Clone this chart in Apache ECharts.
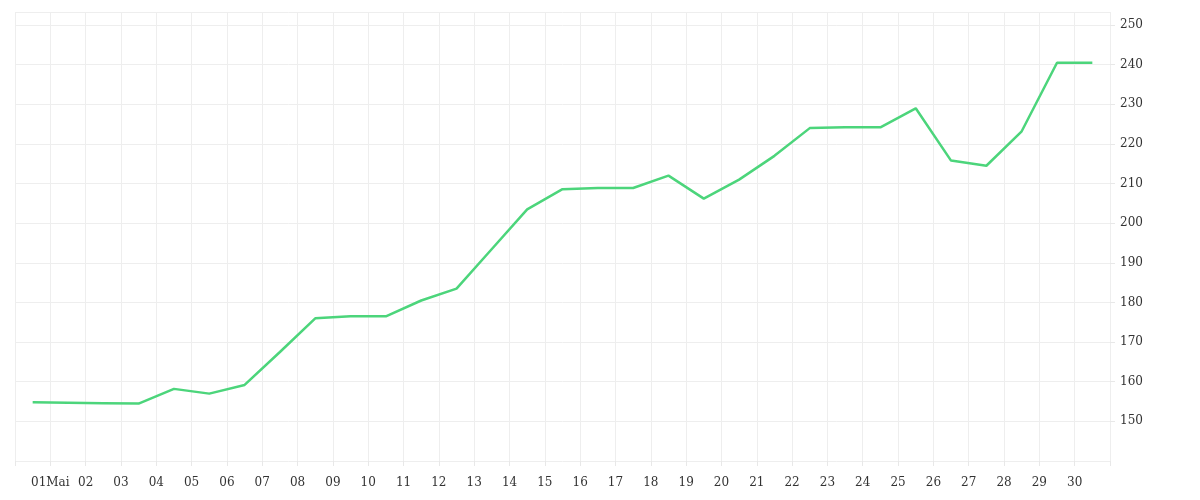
<!DOCTYPE html>
<html>
<head>
<meta charset="utf-8">
<script src="https://cdn.jsdelivr.net/npm/echarts@6/dist/echarts.min.js"></script>
<style>html,body{margin:0;padding:0;background:#fff}#chart{width:1200px;height:500px}</style>
</head>
<body>
<div id="chart"></div>
<script>
// one point per day at noon, 30 Apr .. 30 May
var startDay = '2024-04-30T12:00:00';
var values = [154.8,154.7,154.6,154.5,158.2,157,159.2,167.5,176,176.5,176.5,180.5,183.5,193.5,203.5,
  208.6,208.9,208.9,212,206.2,211,217,224,224.2,224.2,229,215.8,214.5,223.2,240.5,240.5];
var monthNames = ['Jan','Feb','Mär','Apr','Mai','Jun','Jul','Aug','Sep','Okt','Nov','Dez'];

var t0 = new Date(startDay).getTime();
var points = values.map(function (v, i) { return [t0 + i * 86400000, v]; });

var myChart = echarts.init(document.getElementById('chart'));
var options = {
    animation: false,
    grid: { left: 15, right: 90, top: 12, bottom: 39 },
    xAxis: {
        type: 'time',
        min: new Date('2024-04-30T00:00:00').getTime(),
        max: new Date('2024-05-31T00:00:00').getTime(),
        interval: 86400000,
        minInterval: 86400000,
        maxInterval: 86400000,
        axisLine: { show: false },
        axisTick: { show: true, length: 5, lineStyle: { color: '#e8e8e8' } },
        splitLine: { show: true, lineStyle: { color: '#eeeeee' } },
        axisLabel: {
            color: '#333', fontFamily: 'DejaVu Serif', fontSize: 12, margin: 16,
            hideOverlap: false,
            formatter: function (val) {
                var d = new Date(val);
                if (d.getMonth() !== 4 || d.getDate() === 31) return '';
                var s = (d.getDate() < 10 ? '0' : '') + d.getDate();
                return d.getDate() === 1 ? s + monthNames[d.getMonth()] : s;
            }
        }
    },
    yAxis: {
        type: 'value',
        position: 'right',
        min: 140, max: 253.3, interval: 10,
        axisLine: { show: false },
        axisTick: { show: true, length: 5, lineStyle: { color: '#e8e8e8' } },
        splitLine: { lineStyle: { color: '#eeeeee' } },
        axisLabel: {
            color: '#333', fontFamily: 'DejaVu Serif', fontSize: 12, margin: 10,
            showMinLabel: false, showMaxLabel: false
        }
    },
    series: [{
        type: 'line',
        data: points,
        showSymbol: false,
        lineStyle: { color: '#4cd57b', width: 2.5 }
    }]
};
myChart.setOption(options);
</script>
</body>
</html>
